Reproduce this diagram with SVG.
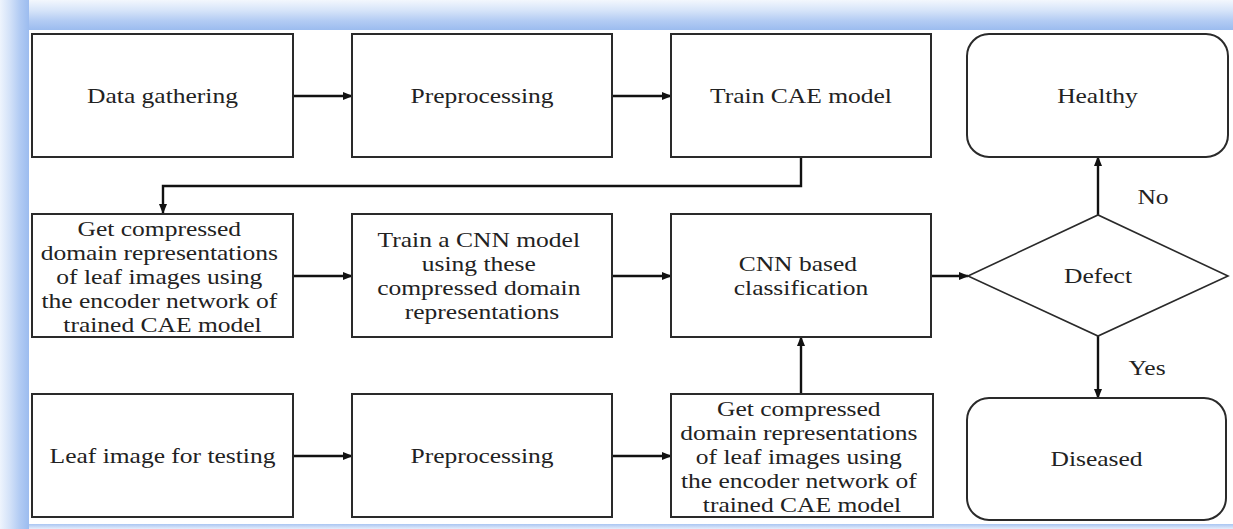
<svg xmlns="http://www.w3.org/2000/svg" width="1233" height="529" viewBox="0 0 1233 529">
  <defs>
    <linearGradient id="bandTop" x1="0" y1="0" x2="0" y2="1">
      <stop offset="0" stop-color="#f3f7fd"/>
      <stop offset="0.35" stop-color="#d6e4f9"/>
      <stop offset="0.7" stop-color="#b2cbf3"/>
      <stop offset="1" stop-color="#9cbcef"/>
    </linearGradient>
    <linearGradient id="bandLeft" x1="0" y1="0" x2="1" y2="0">
      <stop offset="0" stop-color="#eef4fd"/>
      <stop offset="0.35" stop-color="#d2e1f8"/>
      <stop offset="0.7" stop-color="#b0caf3"/>
      <stop offset="1" stop-color="#9cbcef"/>
    </linearGradient>
    <linearGradient id="bandBottom" x1="0" y1="0" x2="0" y2="1">
      <stop offset="0" stop-color="#a9c5f2"/>
      <stop offset="1" stop-color="#e6eefb"/>
    </linearGradient>
    <marker id="arrow" markerUnits="userSpaceOnUse" markerWidth="10" markerHeight="8" refX="9" refY="4" orient="auto">
      <path d="M0,0 L10,4 L0,8 Z" fill="#111"/>
    </marker>
    <style>
      .box { fill: #ffffff; stroke: #2a2a2a; stroke-width: 2; }
      .conn { fill: none; stroke: #111; stroke-width: 2.4; }
      .label { font-family: "Liberation Serif", "Times New Roman", serif; font-size: 22px; fill: #222; text-anchor: middle; }
    </style>
  </defs>

  <!-- page background and soft blue frame -->
  <rect x="0" y="0" width="1233" height="529" fill="#ffffff"/>
  <rect x="0" y="0" width="1233" height="30" fill="url(#bandTop)"/>
  <rect x="0" y="0" width="29" height="529" fill="url(#bandLeft)"/>
  <rect x="29" y="524" width="1204" height="5" fill="url(#bandBottom)"/>

  <!-- connectors -->
  <g id="connectors">
    <line class="conn" x1="293" y1="96" x2="352" y2="96" marker-end="url(#arrow)"/>
    <line class="conn" x1="612" y1="96" x2="671" y2="96" marker-end="url(#arrow)"/>
    <polyline class="conn" points="801,157 801,186 163,186 163,213" marker-end="url(#arrow)"/>
    <line class="conn" x1="293" y1="276" x2="352" y2="276" marker-end="url(#arrow)"/>
    <line class="conn" x1="612" y1="276" x2="671" y2="276" marker-end="url(#arrow)"/>
    <line class="conn" x1="931" y1="276" x2="968" y2="276" marker-end="url(#arrow)"/>
    <line class="conn" x1="293" y1="456" x2="352" y2="456" marker-end="url(#arrow)"/>
    <line class="conn" x1="612" y1="456" x2="671" y2="456" marker-end="url(#arrow)"/>
    <line class="conn" x1="801" y1="394" x2="801" y2="337" marker-end="url(#arrow)"/>
    <line class="conn" x1="1098" y1="215" x2="1098" y2="157" marker-end="url(#arrow)"/>
    <line class="conn" x1="1098" y1="336" x2="1098" y2="398" marker-end="url(#arrow)"/>
    <text class="label" transform="translate(1153,204) scale(1.16,1)" x="0" y="0">No</text>
    <text class="label" transform="translate(1147,375) scale(1.16,1)" x="0" y="0">Yes</text>
  </g>

  <!-- top row -->
  <g id="data-gathering">
    <rect class="box" x="32" y="34" width="261" height="123"/>
    <text class="label" transform="translate(162.5,103) scale(1.16,1)" x="0" y="0">Data gathering</text>
  </g>
  <g id="preprocessing-train">
    <rect class="box" x="352" y="34" width="260" height="123"/>
    <text class="label" transform="translate(482,103) scale(1.16,1)" x="0" y="0">Preprocessing</text>
  </g>
  <g id="train-cae">
    <rect class="box" x="671" y="34" width="260" height="123"/>
    <text class="label" transform="translate(801,103) scale(1.16,1)" x="0" y="0">Train CAE model</text>
  </g>
  <g id="healthy">
    <rect class="box" x="967" y="34" width="261" height="123" rx="22" ry="22"/>
    <text class="label" transform="translate(1097.5,103) scale(1.16,1)" x="0" y="0">Healthy</text>
  </g>

  <!-- middle row -->
  <g id="compress-train">
    <rect class="box" x="32" y="214" width="261" height="123"/>
    <text class="label" transform="translate(162.5,0) scale(1.16,1)">
      <tspan x="0" y="236">Get compressed</tspan>
      <tspan x="0" y="260">domain representations</tspan>
      <tspan x="0" y="284">of leaf images using</tspan>
      <tspan x="0" y="308">the encoder network of</tspan>
      <tspan x="0" y="332">trained CAE model</tspan>
    </text>
  </g>
  <g id="train-cnn">
    <rect class="box" x="352" y="214" width="260" height="123"/>
    <text class="label" transform="translate(482,0) scale(1.16,1)">
      <tspan x="0" y="247">Train a CNN model</tspan>
      <tspan x="0" y="271">using these</tspan>
      <tspan x="0" y="295">compressed domain</tspan>
      <tspan x="0" y="319">representations</tspan>
    </text>
  </g>
  <g id="cnn-classification">
    <rect class="box" x="671" y="214" width="260" height="123"/>
    <text class="label" transform="translate(801,0) scale(1.16,1)">
      <tspan x="0" y="271">CNN based</tspan>
      <tspan x="0" y="295">classification</tspan>
    </text>
  </g>
  <g id="defect">
    <polygon points="968,276 1098,215 1228,276 1098,336" fill="#ffffff" stroke="#2a2a2a" stroke-width="1.6"/>
    <text class="label" transform="translate(1098,283) scale(1.16,1)" x="0" y="0">Defect</text>
  </g>

  <!-- bottom row -->
  <g id="leaf-test">
    <rect class="box" x="32" y="394" width="261" height="123"/>
    <text class="label" transform="translate(162.5,463) scale(1.16,1)" x="0" y="0">Leaf image for testing</text>
  </g>
  <g id="preprocessing-test">
    <rect class="box" x="352" y="394" width="260" height="123"/>
    <text class="label" transform="translate(482,463) scale(1.16,1)" x="0" y="0">Preprocessing</text>
  </g>
  <g id="compress-test">
    <rect class="box" x="671" y="394" width="262" height="123"/>
    <text class="label" transform="translate(802,0) scale(1.16,1)">
      <tspan x="0" y="416">Get compressed</tspan>
      <tspan x="0" y="440">domain representations</tspan>
      <tspan x="0" y="464">of leaf images using</tspan>
      <tspan x="0" y="488">the encoder network of</tspan>
      <tspan x="0" y="512">trained CAE model</tspan>
    </text>
  </g>
  <g id="diseased">
    <rect class="box" x="967" y="398" width="259" height="122" rx="22" ry="22"/>
    <text class="label" transform="translate(1096.5,466) scale(1.16,1)" x="0" y="0">Diseased</text>
  </g>
</svg>
